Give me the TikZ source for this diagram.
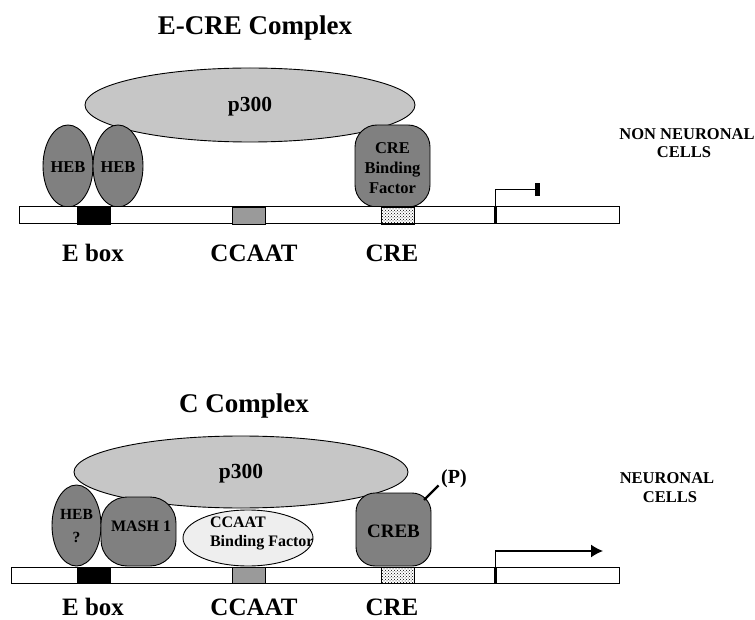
\documentclass[tikz,border=0pt]{standalone}
\usepackage{fontspec}
\setmainfont{Liberation Serif}
\usetikzlibrary{shapes.geometric,arrows.meta,patterns}
\definecolor{protgray}{RGB}{128,128,128}
\definecolor{pgray}{RGB}{198,198,198}
\definecolor{sitegray}{RGB}{154,154,154}
\definecolor{cbfgray}{RGB}{238,238,238}
\tikzset{
  every node/.style={inner sep=0pt, outer sep=0pt},
  txt/.style={font={\bfseries\fontsize{#1}{#1}\selectfont}},
  lbl/.style={font={\bfseries\fontsize{25}{25}\selectfont}, anchor=base},
  celltxt/.style={font={\bfseries\fontsize{16.5}{16.5}\selectfont}, anchor=base},
  protein/.style={draw=black, line width=0.9pt, fill=protgray},
  ellprot/.style={protein, ellipse},
  boxprot/.style={protein, rectangle},
  bigell/.style={draw=black, line width=0.9pt, fill=pgray, ellipse},
  dnabar/.style={draw=black, line width=1pt, fill=white, rectangle},
  site/.style={draw=black, line width=0.8pt, rectangle, minimum width=33pt},
  dotsite/.style={site, pattern=crosshatch dots, pattern color=black},
  tssmark/.style={fill=black, rectangle, minimum width=3pt},
}
\begin{document}
\begin{tikzpicture}[x=1pt,y=-1pt]
\useasboundingbox[fill=white] (0,0) rectangle (755,620);

% ---------- top: E-CRE complex ----------
\node[txt=27, anchor=base] (title1) at (255,35) {E-CRE Complex};
\node[bigell, minimum width=330pt, minimum height=74pt] (p300a) at (250,105) {};
\node[txt=21.5] (p300aT) at (250,107) {p300};
\node[ellprot, minimum width=50pt, minimum height=82pt] (heba1) at (68,166) {};
\node[ellprot, minimum width=50pt, minimum height=82pt] (heba2) at (118,166) {};
\node[txt=16.5] (heba1T) at (68,167.5) {HEB};
\node[txt=16.5] (heba2T) at (118,167.5) {HEB};
\node[boxprot, rounded corners=22pt, minimum width=75pt, minimum height=82pt] (crebfa) at (392.5,166) {};
\node[font={\bfseries\fontsize{16.5}{20}\selectfont}, align=center] (crebfaT) at (392.5,168) {CRE\\Binding\\Factor};

\node[dnabar, minimum width=600pt, minimum height=17pt] (dnaa) at (319,215.5) {};
\node[site, minimum height=17pt, fill=black] (eboxa) at (93.5,215.5) {};
\node[site, minimum height=17pt, fill=sitegray] (ccaata) at (249,215.5) {};
\node[dotsite, minimum height=17pt] (crea) at (397.5,215.5) {};
\node[tssmark, minimum height=17pt] (tssa) at (495.5,215.5) {};
\node[fill=black, minimum width=5pt, minimum height=13pt] (stopa) at (537,190) {};
\draw[line width=1pt] (tssa.north) |- (stopa.west);

\node[lbl] (eboxaL) at (93,262) {E box};
\node[lbl] (ccaataL) at (254,262) {CCAAT};
\node[lbl] (creaL) at (392,262) {CRE};
\node[celltxt] (nonneur) at (687,140) {NON NEURONAL};
\node[celltxt] (cellsa) at (684,158) {CELLS};

% ---------- bottom: C complex ----------
\node[txt=27, anchor=base] (title2) at (244,412) {C Complex};
\node[bigell, minimum width=334pt, minimum height=72pt] (p300b) at (241,472) {};
\node[txt=21.5] (p300bT) at (241,474) {p300};
\node[ellprot, minimum width=49pt, minimum height=81pt] (hebb) at (76.5,525.5) {};
\node[font={\bfseries\fontsize{15.5}{23}\selectfont}, align=center] (hebbT) at (76.5,526) {HEB\\?};
\node[boxprot, rounded corners=26pt, minimum width=75pt, minimum height=69pt] (mash) at (138.5,531.5) {};
\node[txt=16] (mashT) at (141,526) {MASH 1};
\node[draw=black, line width=0.9pt, fill=cbfgray, ellipse, minimum width=130pt, minimum height=56pt] (cbf) at (248,538) {};
\node[font={\bfseries\fontsize{16}{19}\selectfont}, align=left, anchor=west] (cbfT) at (210,533) {CCAAT\\Binding Factor};
\node[boxprot, rounded corners=19pt, minimum width=75pt, minimum height=73pt] (creb) at (393.5,529.5) {};
\node[txt=19] (crebT) at (393.5,531) {CREB};
\node[txt=20] (ptext) at (454,479) {(P)};
\coordinate (pstart) at (424,500);
\coordinate (pend) at (438.5,485.5);
\draw[line width=2.2pt] (pstart) -- (pend);

\node[dnabar, minimum width=608pt, minimum height=16pt] (dnab) at (315,575) {};
\node[site, minimum height=16pt, fill=black] (eboxb) at (93.5,575) {};
\node[site, minimum height=16pt, fill=sitegray] (ccaatb) at (249,575) {};
\node[dotsite, minimum height=16pt] (creb2) at (397.5,575) {};
\node[tssmark, minimum height=16pt] (tssb) at (495.5,575) {};
\coordinate (arrowend) at (603,551);
\draw[line width=1.3pt, -{Latex[length=12pt,width=13pt]}] (tssb.north) |- (arrowend);

\node[lbl] (eboxbL) at (93,615) {E box};
\node[lbl] (ccaatbL) at (254,615) {CCAAT};
\node[lbl] (crebL) at (392,615) {CRE};
\node[celltxt] (neur) at (667,483) {NEURONAL};
\node[celltxt] (cellsb) at (670,502) {CELLS};
\end{tikzpicture}
\end{document}
